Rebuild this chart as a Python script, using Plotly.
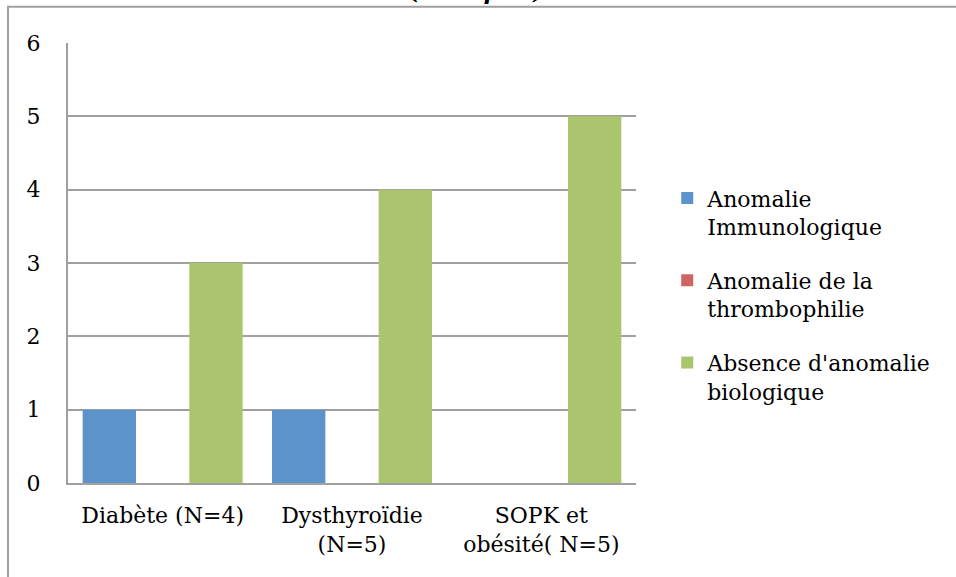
import plotly.graph_objects as go

# --- data ---
categories = ["Diabète (N=4)", "Dysthyroïdie<br>(N=5)", "SOPK et<br>obésité( N=5)"]
immuno = [1, 1, 0]
thrombo = [0, 0, 0]
absence = [3, 4, 5]
series_names = ["Anomalie<br>Immunologique", "Anomalie de la<br>thrombophilie",
                "Absence d'anomalie<br>biologique"]
y_ticks = [0, 1, 2, 3, 4, 5, 6]

COLORS = ["#5B93CA", "#CD6662", "#ABC56E"]
GRID = "#A0A0A0"
FONT = "DejaVu Serif"

fig = go.Figure()
for name, vals, col in zip(series_names, [immuno, thrombo, absence], COLORS):
    fig.add_trace(go.Bar(x=categories, y=vals, name=name, marker=dict(color=col, line=dict(width=0)),
                         legendgroup=name))

# outer chart frame (left and top edges visible)
shapes = [dict(type="rect", xref="paper", yref="paper", x0=-0.1056, x1=2.0, y0=-1.0, y1=1.0824,
               line=dict(color="#A0A0A0", width=2), layer="below")]

fig.update_layout(
    width=956, height=577,
    margin=dict(l=68, r=320, t=43, b=94),
    plot_bgcolor="white", paper_bgcolor="white",
    font=dict(family=FONT, size=22, color="black"),
    barmode="group", bargap=0.155, bargroupgap=0,
    shapes=shapes,
    showlegend=True,
    legend=dict(x=1.055, xanchor="left", y=0.695, yanchor="top", valign="top",
                tracegroupgap=22, bgcolor="rgba(0,0,0,0)", font=dict(size=22)),
    # title sits mostly above the visible area, as in the source image
    annotations=[dict(text="<b><i>(Groupe I)</i></b>", xref="paper", yref="paper", x=0.72, y=1.085,
                      xanchor="center", yanchor="bottom", showarrow=False, font=dict(size=23))],
    xaxis=dict(showline=True, linecolor=GRID, linewidth=2, ticks="", ticklabelstandoff=12,
               showgrid=False),
    yaxis=dict(range=[0, 6], tickvals=y_ticks, showgrid=True, gridcolor=GRID, gridwidth=2,
               showline=True, linecolor=GRID, linewidth=2, zeroline=False, ticks="",
               ticklabelstandoff=21),
)

fig.write_html("out.html", config={"displayModeBar": False},
               post_script="document.body.style.margin='0';")
